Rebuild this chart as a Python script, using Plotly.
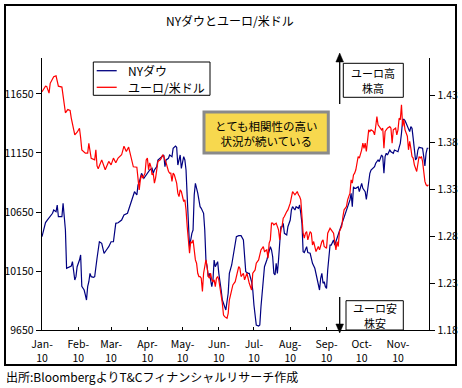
import plotly.graph_objects as go

# ---------------- data ----------------
dow_dates = [
    "2010-01-01", "2010-01-04", "2010-01-06", "2010-01-08", "2010-01-10", "2010-01-11", "2010-01-13",
    "2010-01-14", "2010-01-15", "2010-01-18", "2010-01-19", "2010-01-20", "2010-01-21", "2010-01-22",
    "2010-01-24", "2010-01-26", "2010-01-27", "2010-01-29", "2010-01-30", "2010-01-31", "2010-02-02",
    "2010-02-03", "2010-02-04", "2010-02-06", "2010-02-07", "2010-02-08", "2010-02-09", "2010-02-10",
    "2010-02-11", "2010-02-12", "2010-02-14", "2010-02-15", "2010-02-17", "2010-02-18", "2010-02-19",
    "2010-02-21", "2010-02-23", "2010-02-25", "2010-02-27", "2010-03-01", "2010-03-03", "2010-03-05",
    "2010-03-07", "2010-03-10", "2010-03-12", "2010-03-15", "2010-03-17", "2010-03-19", "2010-03-21",
    "2010-03-23", "2010-03-24", "2010-03-25", "2010-03-26", "2010-03-27", "2010-03-29", "2010-03-31",
    "2010-04-02", "2010-04-03", "2010-04-05", "2010-04-06", "2010-04-07", "2010-04-09", "2010-04-10",
    "2010-04-12", "2010-04-14", "2010-04-15", "2010-04-16", "2010-04-17", "2010-04-19", "2010-04-20",
    "2010-04-22", "2010-04-23", "2010-04-25", "2010-04-26", "2010-04-27", "2010-04-29", "2010-04-30",
    "2010-05-02", "2010-05-03", "2010-05-04", "2010-05-05", "2010-05-06", "2010-05-07", "2010-05-09",
    "2010-05-10", "2010-05-11", "2010-05-12", "2010-05-14", "2010-05-16", "2010-05-17", "2010-05-19",
    "2010-05-20", "2010-05-21", "2010-05-22", "2010-05-23", "2010-05-24", "2010-05-26", "2010-05-27",
    "2010-05-28", "2010-05-29", "2010-05-31", "2010-06-01", "2010-06-02", "2010-06-03", "2010-06-04",
    "2010-06-06", "2010-06-07", "2010-06-09", "2010-06-10", "2010-06-12", "2010-06-13", "2010-06-15",
    "2010-06-16", "2010-06-18", "2010-06-20", "2010-06-22", "2010-06-23", "2010-06-24", "2010-06-26",
    "2010-06-27", "2010-06-29", "2010-06-30", "2010-07-01", "2010-07-02", "2010-07-03", "2010-07-05",
    "2010-07-06", "2010-07-07", "2010-07-08", "2010-07-09", "2010-07-10", "2010-07-12", "2010-07-13",
    "2010-07-15", "2010-07-16", "2010-07-17", "2010-07-18", "2010-07-19", "2010-07-20", "2010-07-21",
    "2010-07-22", "2010-07-23", "2010-07-24", "2010-07-25", "2010-07-26", "2010-07-27", "2010-07-29",
    "2010-07-30", "2010-08-01", "2010-08-02", "2010-08-03", "2010-08-05", "2010-08-06", "2010-08-08",
    "2010-08-09", "2010-08-10", "2010-08-11", "2010-08-12", "2010-08-13", "2010-08-15", "2010-08-16",
    "2010-08-18", "2010-08-19", "2010-08-20", "2010-08-22", "2010-08-23", "2010-08-25", "2010-08-26",
    "2010-08-27", "2010-08-28", "2010-08-29", "2010-08-30", "2010-08-31", "2010-09-01", "2010-09-02",
    "2010-09-03", "2010-09-04", "2010-09-05", "2010-09-07", "2010-09-08", "2010-09-09", "2010-09-11",
    "2010-09-12", "2010-09-14", "2010-09-15", "2010-09-16", "2010-09-18", "2010-09-19", "2010-09-21",
    "2010-09-22", "2010-09-23", "2010-09-24", "2010-09-25", "2010-09-26", "2010-09-28", "2010-09-29",
    "2010-10-01", "2010-10-02", "2010-10-04", "2010-10-05", "2010-10-06", "2010-10-07", "2010-10-08",
    "2010-10-09", "2010-10-11", "2010-10-12", "2010-10-13", "2010-10-15", "2010-10-16", "2010-10-18",
    "2010-10-19", "2010-10-20", "2010-10-21", "2010-10-22", "2010-10-23", "2010-10-25", "2010-10-26",
    "2010-10-28", "2010-10-29", "2010-10-31", "2010-11-01", "2010-11-02", "2010-11-03", "2010-11-04",
    "2010-11-05", "2010-11-06", "2010-11-07", "2010-11-08", "2010-11-09", "2010-11-10", "2010-11-11",
    "2010-11-12", "2010-11-13", "2010-11-14", "2010-11-15", "2010-11-16", "2010-11-17", "2010-11-18",
    "2010-11-19", "2010-11-21", "2010-11-22", "2010-11-23", "2010-11-24", "2010-11-25", "2010-11-26",
    "2010-11-27",
]
dow_values = [
    10441, 10560, 10588, 10610, 10639, 10667, 10653,
    10709, 10610, 10610, 10724, 10610, 10497, 10173,
    10186, 10192, 10229, 10074, 10102, 10186, 10243,
    10286, 10020, 9989, 9947, 9904, 10017, 10059,
    10130, 10102, 10096, 10102, 10258, 10328, 10398,
    10385, 10300, 10328, 10356, 10398, 10398, 10554,
    10559, 10582, 10625, 10639, 10695, 10752, 10822,
    10794, 10879, 10900, 10936, 10978, 10936, 10964,
    10992, 11006, 11020, 10978, 11006, 11034, 11091,
    11105, 11119, 11133, 11034, 11091, 11105, 11133,
    11119, 11190, 11209, 11198, 11048, 11133, 11020,
    11119, 11091, 11006, 10780, 10582, 10356, 10469,
    10497, 10794, 10893, 10809, 10695, 10681, 10639,
    10497, 10243, 10186, 10102, 10130, 10017, 10074,
    10243, 10186, 10229, 10130, 10074, 9989, 9904,
    9847, 9820, 9961, 10130, 10201, 10271, 10398,
    10441, 10449, 10449, 10413, 10300, 10144, 10130,
    10130, 10059, 9989, 9862, 9791, 9692, 9684,
    9692, 9847, 9961, 10059, 10186, 10243, 10277,
    10356, 10328, 10271, 10130, 10116, 10215, 10130,
    10243, 10385, 10525, 10525, 10554, 10469, 10455,
    10525, 10582, 10667, 10695, 10667, 10695, 10681,
    10709, 10639, 10554, 10314, 10306, 10356, 10306,
    10300, 10243, 10215, 10173, 10130, 10059, 9989,
    10088, 10130, 10046, 10059, 10017, 10003, 10158,
    10243, 10370, 10370, 10413, 10370, 10398, 10455,
    10497, 10540, 10582, 10610, 10653, 10695, 10752,
    10809, 10695, 10864, 10851, 10851, 10864, 10822,
    10893, 10851, 10822, 10757, 10836, 10949, 10978,
    11006, 11020, 11034, 11063, 11091, 11077, 11133,
    11119, 10978, 11119, 11148, 11133, 11175, 11161,
    11148, 11175, 11169, 11161, 11198, 11232, 11317,
    11430, 11435, 11424, 11402, 11373, 11359, 11331,
    11373, 11359, 11274, 11204, 11091, 11105, 11175,
    11198, 11190, 11190, 11119, 11040, 11148, 11190,
    11190,
]

eur_dates = [
    "2010-01-01", "2010-01-04", "2010-01-05", "2010-01-06", "2010-01-07", "2010-01-08", "2010-01-11",
    "2010-01-13", "2010-01-15", "2010-01-18", "2010-01-19", "2010-01-21", "2010-01-23", "2010-01-25",
    "2010-01-26", "2010-01-29", "2010-01-31", "2010-02-02", "2010-02-03", "2010-02-04", "2010-02-07",
    "2010-02-09", "2010-02-10", "2010-02-11", "2010-02-12", "2010-02-15", "2010-02-16", "2010-02-17",
    "2010-02-18", "2010-02-21", "2010-02-24", "2010-02-27", "2010-03-01", "2010-03-03", "2010-03-05",
    "2010-03-07", "2010-03-10", "2010-03-12", "2010-03-14", "2010-03-16", "2010-03-18", "2010-03-20",
    "2010-03-23", "2010-03-24", "2010-03-25", "2010-03-26", "2010-03-27", "2010-03-28", "2010-03-30",
    "2010-03-31", "2010-04-01", "2010-04-02", "2010-04-03", "2010-04-04", "2010-04-05", "2010-04-06",
    "2010-04-07", "2010-04-08", "2010-04-09", "2010-04-10", "2010-04-12", "2010-04-13", "2010-04-14",
    "2010-04-15", "2010-04-16", "2010-04-17", "2010-04-19", "2010-04-20", "2010-04-21", "2010-04-22",
    "2010-04-23", "2010-04-24", "2010-04-26", "2010-04-27", "2010-04-28", "2010-04-29", "2010-04-30",
    "2010-05-01", "2010-05-02", "2010-05-03", "2010-05-04", "2010-05-05", "2010-05-06", "2010-05-07",
    "2010-05-08", "2010-05-09", "2010-05-10", "2010-05-11", "2010-05-12", "2010-05-13", "2010-05-14",
    "2010-05-15", "2010-05-16", "2010-05-17", "2010-05-18", "2010-05-19", "2010-05-20", "2010-05-21",
    "2010-05-22", "2010-05-23", "2010-05-24", "2010-05-25", "2010-05-26", "2010-05-27", "2010-05-28",
    "2010-05-29", "2010-05-30", "2010-05-31", "2010-06-01", "2010-06-02", "2010-06-03", "2010-06-04",
    "2010-06-05", "2010-06-06", "2010-06-08", "2010-06-09", "2010-06-10", "2010-06-12", "2010-06-13",
    "2010-06-15", "2010-06-16", "2010-06-18", "2010-06-19", "2010-06-20", "2010-06-22", "2010-06-23",
    "2010-06-25", "2010-06-26", "2010-06-27", "2010-06-29", "2010-06-30", "2010-07-02", "2010-07-03",
    "2010-07-05", "2010-07-06", "2010-07-07", "2010-07-09", "2010-07-10", "2010-07-12", "2010-07-13",
    "2010-07-14", "2010-07-15", "2010-07-16", "2010-07-17", "2010-07-18", "2010-07-20", "2010-07-22",
    "2010-07-23", "2010-07-24", "2010-07-25", "2010-07-26", "2010-07-27", "2010-07-29", "2010-07-30",
    "2010-08-01", "2010-08-02", "2010-08-03", "2010-08-05", "2010-08-06", "2010-08-07", "2010-08-08",
    "2010-08-09", "2010-08-10", "2010-08-11", "2010-08-12", "2010-08-13", "2010-08-14", "2010-08-15",
    "2010-08-16", "2010-08-18", "2010-08-19", "2010-08-20", "2010-08-21", "2010-08-22", "2010-08-23",
    "2010-08-25", "2010-08-26", "2010-08-28", "2010-08-29", "2010-08-30", "2010-09-01", "2010-09-02",
    "2010-09-04", "2010-09-05", "2010-09-07", "2010-09-08", "2010-09-09", "2010-09-10", "2010-09-11",
    "2010-09-12", "2010-09-14", "2010-09-15", "2010-09-16", "2010-09-18", "2010-09-19", "2010-09-21",
    "2010-09-22", "2010-09-23", "2010-09-24", "2010-09-25", "2010-09-26", "2010-09-28", "2010-09-29",
    "2010-10-01", "2010-10-02", "2010-10-03", "2010-10-04", "2010-10-05", "2010-10-06", "2010-10-07",
    "2010-10-08", "2010-10-09", "2010-10-11", "2010-10-12", "2010-10-13", "2010-10-14", "2010-10-15",
    "2010-10-16", "2010-10-18", "2010-10-19", "2010-10-20", "2010-10-21", "2010-10-22", "2010-10-23",
    "2010-10-25", "2010-10-26", "2010-10-27", "2010-10-28", "2010-10-30", "2010-10-31", "2010-11-01",
    "2010-11-02", "2010-11-03", "2010-11-04", "2010-11-05", "2010-11-06", "2010-11-07", "2010-11-08",
    "2010-11-09", "2010-11-10", "2010-11-11", "2010-11-12", "2010-11-13", "2010-11-14", "2010-11-15",
    "2010-11-17", "2010-11-18", "2010-11-19", "2010-11-20", "2010-11-21", "2010-11-22", "2010-11-23",
    "2010-11-24", "2010-11-25", "2010-11-26", "2010-11-27",
]
eur_values = [
    1.4340, 1.4400, 1.4397, 1.4369, 1.4326, 1.4430, 1.4500,
    1.4510, 1.4400, 1.4390, 1.4290, 1.4116, 1.4150, 1.4141,
    1.4060, 1.3880, 1.3909, 1.3950, 1.3850, 1.3720, 1.3686,
    1.3686, 1.3790, 1.3703, 1.3630, 1.3614, 1.3721, 1.3550,
    1.3520, 1.3614, 1.3508, 1.3597, 1.3561, 1.3633, 1.3582,
    1.3633, 1.3668, 1.3760, 1.3703, 1.3750, 1.3633, 1.3540,
    1.3536, 1.3366, 1.3294, 1.3400, 1.3454, 1.3419, 1.3472,
    1.3614, 1.3633, 1.3508, 1.3582, 1.3543, 1.3454, 1.3470,
    1.3366, 1.3420, 1.3543, 1.3597, 1.3614, 1.3633, 1.3668,
    1.3650, 1.3614, 1.3582, 1.3493, 1.3472, 1.3472, 1.3383,
    1.3472, 1.3454, 1.3366, 1.3259, 1.3223, 1.3294, 1.3276,
    1.3223, 1.3170, 1.3187, 1.3081, 1.2904, 1.2743, 1.2619,
    1.2743, 1.2726, 1.2761, 1.2654, 1.2547, 1.2512, 1.2405,
    1.2370, 1.2370, 1.2352, 1.2210, 1.2405, 1.2476, 1.2547,
    1.2476, 1.2370, 1.2352, 1.2405, 1.2334, 1.2316, 1.2334,
    1.2263, 1.2352, 1.2370, 1.2334, 1.2263, 1.2192, 1.2085,
    1.1960, 1.1942, 1.1925, 1.1978, 1.2120, 1.2227, 1.2280,
    1.2315, 1.2370, 1.2476, 1.2458, 1.2370, 1.2405, 1.2334,
    1.2405, 1.2352, 1.2298, 1.2227, 1.2405, 1.2440, 1.2512,
    1.2547, 1.2619, 1.2654, 1.2689, 1.2636, 1.2654, 1.2565,
    1.2726, 1.2761, 1.2939, 1.2939, 1.2921, 1.2939, 1.2867,
    1.2761, 1.2867, 1.2904, 1.2992, 1.3010, 1.3063, 1.3081,
    1.3152, 1.3205, 1.3276, 1.3241, 1.3259, 1.3276, 1.3241,
    1.3223, 1.3187, 1.2974, 1.2832, 1.2779, 1.2832, 1.2849,
    1.2761, 1.2849, 1.2832, 1.2707, 1.2743, 1.2690, 1.2636,
    1.2690, 1.2654, 1.2743, 1.2761, 1.2690, 1.2672, 1.2832,
    1.2885, 1.2867, 1.2832, 1.2743, 1.2654, 1.2743, 1.2690,
    1.2849, 1.2904, 1.3010, 1.3081, 1.3116, 1.3187, 1.3259,
    1.3401, 1.3366, 1.3454, 1.3472, 1.3508, 1.3650, 1.3633,
    1.3721, 1.3792, 1.3737, 1.3792, 1.3703, 1.3828, 1.3934,
    1.3917, 1.3934, 1.3917, 1.3881, 1.3970, 1.4076, 1.3988,
    1.3970, 1.3934, 1.3952, 1.3737, 1.3917, 1.3934, 1.3952,
    1.3970, 1.3952, 1.3792, 1.3934, 1.3952, 1.3881, 1.3934,
    1.4058, 1.4041, 1.4201, 1.3970, 1.4041, 1.3934, 1.3902,
    1.3866, 1.3721, 1.3812, 1.3737, 1.3650, 1.3633, 1.3561,
    1.3490, 1.3582, 1.3650, 1.3633, 1.3650, 1.3597, 1.3490,
    1.3384, 1.3348, 1.3337, 1.3348,
]

series_names = ["NYダウ", "ユーロ/米ドル"]
series_colors = ["#000080", "#FF0000"]

month_ticks = ["2010-01-01", "2010-02-01", "2010-03-01", "2010-04-01", "2010-05-01", "2010-06-01",
               "2010-07-01", "2010-08-01", "2010-09-01", "2010-10-01", "2010-11-01"]
month_labels = ["Jan-<br>10", "Feb-<br>10", "Mar-<br>10", "Apr-<br>10", "May-<br>10", "Jun-<br>10",
                "Jul-<br>10", "Aug-<br>10", "Sep-<br>10", "Oct-<br>10", "Nov-<br>10"]
dow_ticks = [9650, 10150, 10650, 11150, 11650]
eur_ticks = [1.18, 1.23, 1.28, 1.33, 1.38, 1.43]

title_text = "NYダウとユーロ/米ドル"
note_text = "とても相関性の高い<br>状況が続いている"
up_lines = ["ユーロ高", "株高"]
down_lines = ["ユーロ安", "株安"]
source_text = "出所:BloombergよりT&Cフィナンシャルリサーチ作成"

# ---------------- layout helpers (pixel -> paper) ----------------
W, H = 462, 388
ML, MR, MT, MB = 42, 33, 58, 58
PW, PH = W - ML - MR, H - MT - MB


def px(x):
    return (x - ML) / PW


def py(y):
    return (H - MB - y) / PH


FONT = "Noto Sans CJK JP"

fig = go.Figure()
fig.add_trace(go.Scatter(x=dow_dates, y=dow_values, name=series_names[0], mode="lines",
                         line=dict(color=series_colors[0], width=1.2), yaxis="y", showlegend=False))
fig.add_trace(go.Scatter(x=eur_dates, y=eur_values, name=series_names[1], mode="lines",
                         line=dict(color=series_colors[1], width=1.2), yaxis="y2", showlegend=False))

shapes = []
annotations = []

# outer frame
shapes.append(dict(type="rect", xref="paper", yref="paper", x0=px(5), x1=px(456), y0=py(365), y1=py(5),
                   line=dict(color="black", width=2), layer="below"))

# manual legend
shapes.append(dict(type="rect", xref="paper", yref="paper", x0=px(93.3), x1=px(210), y0=py(95.3), y1=py(62),
                   line=dict(color="black", width=1), fillcolor="white"))
for i, yy in enumerate([70.7, 87.3]):
    shapes.append(dict(type="line", xref="paper", yref="paper", x0=px(96.7), x1=px(116.7), y0=py(yy), y1=py(yy),
                       line=dict(color=series_colors[i], width=1.3)))
    annotations.append(dict(xref="paper", yref="paper", x=px(126), y=py(yy), text=series_names[i],
                            showarrow=False, xanchor="left", yanchor="middle",
                            font=dict(family=FONT, size=12, color="black")))

# yellow note box
shapes.append(dict(type="rect", xref="paper", yref="paper", x0=px(204), x1=px(328.3), y0=py(153), y1=py(112),
                   line=dict(color="#8A8A8A", width=3), fillcolor="#F7D84E"))
annotations.append(dict(xref="paper", yref="paper", x=px(266), y=py(133.8), text=note_text, showarrow=False,
                        xanchor="center", yanchor="middle", align="center",
                        font=dict(family=FONT, size=11.5, color="black")))

# up / down boxes
shapes.append(dict(type="rect", xref="paper", yref="paper", x0=px(343.3), x1=px(403.3), y0=py(97.3), y1=py(63.3),
                   line=dict(color="black", width=1), fillcolor="white"))
for t, yy in zip(up_lines, [73.3, 88.0]):
    annotations.append(dict(xref="paper", yref="paper", x=px(373.3), y=py(yy), text=t, showarrow=False,
                            xanchor="center", yanchor="middle",
                            font=dict(family=FONT, size=11, color="black")))
shapes.append(dict(type="rect", xref="paper", yref="paper", x0=px(346), x1=px(403.3), y0=py(330), y1=py(300.7),
                   line=dict(color="black", width=1), fillcolor="white"))
for t, yy in zip(down_lines, [307.5, 322.5]):
    annotations.append(dict(xref="paper", yref="paper", x=px(374.7), y=py(yy), text=t, showarrow=False,
                            xanchor="center", yanchor="middle",
                            font=dict(family=FONT, size=11, color="black")))

# arrows
AX = 339.7
shapes.append(dict(type="line", xref="paper", yref="paper", x0=px(AX), x1=px(AX), y0=py(61), y1=py(104),
                   line=dict(color="black", width=1.3)))
shapes.append(dict(type="path", xref="paper", yref="paper",
                   path=f"M {px(AX)},{py(53)} L {px(AX - 3.8)},{py(62)} L {px(AX + 3.8)},{py(62)} Z",
                   fillcolor="black", line=dict(color="black", width=0.5)))
shapes.append(dict(type="line", xref="paper", yref="paper", x0=px(AX), x1=px(AX), y0=py(297), y1=py(325),
                   line=dict(color="black", width=1.3)))
shapes.append(dict(type="path", xref="paper", yref="paper",
                   path=f"M {px(AX)},{py(333)} L {px(AX - 3.8)},{py(324)} L {px(AX + 3.8)},{py(324)} Z",
                   fillcolor="black", line=dict(color="black", width=0.5)))

# title and source
annotations.append(dict(xref="paper", yref="paper", x=px(230), y=py(20), text=title_text, showarrow=False,
                        xanchor="center", yanchor="middle", font=dict(family=FONT, size=12, color="black")))
annotations.append(dict(xref="paper", yref="paper", x=px(4), y=py(376), text=source_text, showarrow=False,
                        xanchor="left", yanchor="middle", font=dict(family=FONT, size=12, color="black")))

tickfont = dict(family=FONT, size=10.5, color="black")
fig.update_layout(
    width=W, height=H,
    margin=dict(l=ML, r=MR, t=MT, b=MB, pad=0, autoexpand=False),
    paper_bgcolor="white", plot_bgcolor="white",
    showlegend=False,
    xaxis=dict(type="date", range=["2010-01-01", "2010-11-27 12:00"], tickmode="array",
               tickvals=month_ticks, ticktext=month_labels, ticks="inside", ticklen=3, tickcolor="black",
               showline=True, linecolor="black", linewidth=1.3, showgrid=False, zeroline=False,
               tickfont=tickfont, automargin=False, ticklabelstandoff=4),
    yaxis=dict(range=[9650, 11955], tickmode="array", tickvals=dow_ticks, tickformat="d",
               ticks="outside", ticklen=5, tickcolor="black", showline=True, linecolor="black",
               linewidth=1.3, showgrid=False, zeroline=False, tickfont=tickfont, automargin=False),
    yaxis2=dict(range=[1.18, 1.47], tickmode="array", tickvals=eur_ticks, tickformat=".2f",
                overlaying="y", side="right", ticks="outside", ticklen=5, tickcolor="black",
                showline=True, linecolor="black", linewidth=1.3, showgrid=False, zeroline=False,
                tickfont=tickfont, automargin=False),
    shapes=shapes,
    annotations=annotations,
)

fig.write_html(
    "out.html",
    config={"displayModeBar": False, "staticPlot": True},
    post_script="document.documentElement.style.margin='0';document.body.style.margin='0';"
                "document.body.style.padding='0';document.body.style.overflow='hidden';",
)
